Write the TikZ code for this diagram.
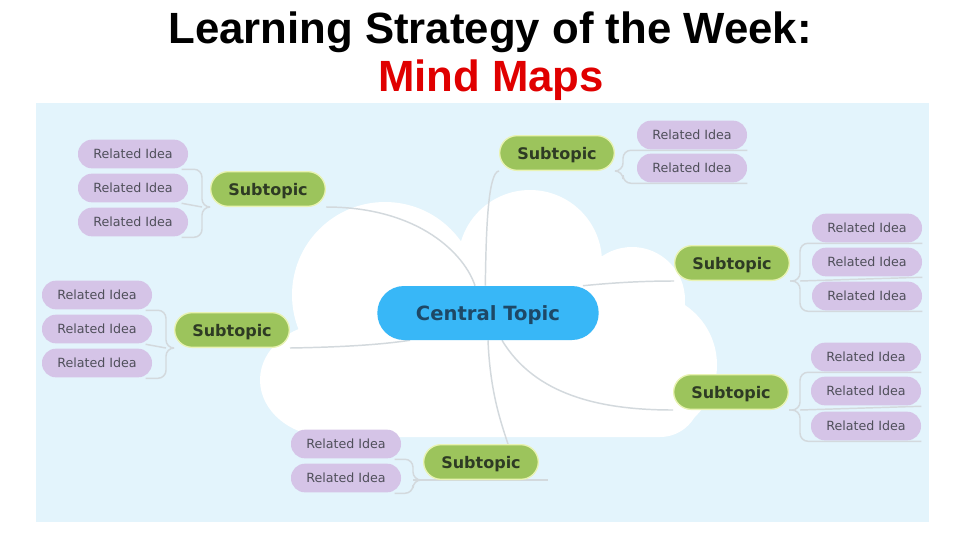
\documentclass[tikz,border=0pt]{standalone}
\usepackage{fontspec}
\setmainfont{Liberation Sans}
\newfontfamily\dvfont{DejaVu Sans}
\definecolor{bgblue}{HTML}{E3F4FC}
\definecolor{linegray}{HTML}{D3D9DD}
\definecolor{ideafill}{HTML}{D5C4E7}
\definecolor{ideatext}{HTML}{4F4F5A}
\definecolor{subfill}{HTML}{9CC45C}
\definecolor{subborder}{HTML}{E9F3B3}
\definecolor{subtext}{HTML}{2E3B24}
\definecolor{centfill}{HTML}{38B7F7}
\definecolor{centtext}{HTML}{1E4866}
\definecolor{titlered}{HTML}{E00000}
\pgfdeclarelayer{cloudlayer}
\pgfdeclarelayer{linklayer}
\pgfsetlayers{cloudlayer,linklayer,main}
\begin{document}
\begin{tikzpicture}[x=0.75pt,y=-0.75pt,
 idea/.style={fill=ideafill, rounded corners=10.5pt, minimum width=82.5pt, minimum height=21.5pt, inner sep=0pt, font=\dvfont\fontsize{9.5}{11}\selectfont, text=ideatext},
 subtopic/.style={fill=subfill, draw=subborder, line width=1pt, rounded corners=13pt, minimum width=86pt, minimum height=26pt, inner sep=0pt, text depth=0pt, font=\dvfont\bfseries\fontsize{12}{14}\selectfont, text=subtext},
 central/.style={fill=centfill, rounded corners=20pt, minimum width=166pt, minimum height=40.5pt, inner sep=0pt, text depth=0pt, font=\dvfont\bfseries\fontsize{14.7}{17}\selectfont, text=centtext},
 link/.style={draw=linegray, line width=1.1pt},
 bracket/.style={link, rounded corners=6pt},
 titletext/.style={font=\bfseries\fontsize{32.8}{38}\selectfont, anchor=base, inner sep=0pt}
]
\path[use as bounding box] (0,0) rectangle (960,540);

% title
\node[titletext] (t1) at (490,43) {Learning Strategy of the Week:};
\node[titletext, text=titlered] (t2) at (491,91) {Mind Maps};

% nodes
\node[central] (ct) at (488,313) {Central Topic};
\node[subtopic] (st1) at (268,189) {Subtopic};
\node[subtopic] (st2) at (557,153) {Subtopic};
\node[subtopic] (st3) at (732,263) {Subtopic};
\node[subtopic] (st4) at (731,392) {Subtopic};
\node[subtopic] (st5) at (232,330) {Subtopic};
\node[subtopic] (st6) at (481,462) {Subtopic};

\node[idea] (i11) at (133,154) {Related Idea};
\node[idea] (i12) at (133,188) {Related Idea};
\node[idea] (i13) at (133,222) {Related Idea};
\node[idea] (i21) at (692,135) {Related Idea};
\node[idea] (i22) at (692,168) {Related Idea};
\node[idea] (i31) at (867,228) {Related Idea};
\node[idea] (i32) at (867,262) {Related Idea};
\node[idea] (i33) at (867,296) {Related Idea};
\node[idea] (i41) at (866,357) {Related Idea};
\node[idea] (i42) at (866,391) {Related Idea};
\node[idea] (i43) at (866,426) {Related Idea};
\node[idea] (i51) at (97,295) {Related Idea};
\node[idea] (i52) at (97,329) {Related Idea};
\node[idea] (i53) at (97,363) {Related Idea};
\node[idea] (i61) at (346,444) {Related Idea};
\node[idea] (i62) at (346,478) {Related Idea};

\coordinate (j1) at (202,207);
\coordinate (j2) at (623,171);
\coordinate (j3) at (800,281);
\coordinate (j4) at (800,410);
\coordinate (j5) at (166,348);
\coordinate (j6) at (413,480);

\begin{pgfonlayer}{cloudlayer}
\fill[white] (0,0) rectangle (960,540);
\fill[bgblue] (36,103) rectangle (929,522);
\fill[white] (385,295) circle[radius=93];
\fill[white] (530,262) circle[radius=72];
\fill[white] (632,300) circle[radius=53];
\fill[white] (645,365) circle[radius=72];
\fill[white] (330,380) ellipse[x radius=70, y radius=57];
\fill[white, rounded corners=30pt] (300,320) rectangle (700,437);
\end{pgfonlayer}

\begin{pgfonlayer}{linklayer}
% central to subtopics
\draw[link] (st1.south east) .. controls (420,207) and (465,255) .. ([xshift=-9.75pt]ct.north);
\draw[link] (st2.south west) .. controls (488,172) and (486,230) .. ([xshift=-2pt]ct.north);
\draw[link] ([xshift=-12pt]ct.north east) .. controls (620,282) and (650,281) .. (st3.south west);
\draw[link] ([xshift=10.5pt]ct.south) .. controls (535,395) and (600,410) .. (st4.south west);
\draw[link] ([xshift=-58.5pt]ct.south) .. controls (385,344) and (350,347) .. (st5.south east);
\draw[link] (ct.south) .. controls (490,390) and (500,420) .. ([xshift=20.25pt]st6.north);
% subtopics to ideas
\draw[bracket] (st1.south west) -- (j1) |- ([xshift=-5pt,yshift=-0.5pt]i11.south east);
\draw[bracket] (j1) -- ([xshift=-5pt,yshift=-0.5pt]i12.south east);
\draw[bracket] (st1.south west) -- (j1) |- ([xshift=-5pt,yshift=-0.5pt]i13.south east);

\draw[bracket] (st2.south east) -- (j2) |- ([yshift=-0.5pt]i21.south east);
\draw[bracket] (st2.south east) -- (j2) |- ([yshift=-0.5pt]i22.south east);

\draw[bracket] (st3.south east) -- (j3) |- ([yshift=-0.5pt]i31.south east);
\draw[bracket] (j3) -- ([yshift=-0.5pt]i32.south east);
\draw[bracket] (st3.south east) -- (j3) |- ([yshift=-0.5pt]i33.south east);

\draw[bracket] (st4.south east) -- (j4) |- ([yshift=-0.5pt]i41.south east);
\draw[bracket] (j4) -- ([yshift=-0.5pt]i42.south east);
\draw[bracket] (st4.south east) -- (j4) |- ([yshift=-0.5pt]i43.south east);

\draw[bracket] (st5.south west) -- (j5) |- ([xshift=-5pt,yshift=-0.5pt]i51.south east);
\draw[bracket] (j5) -- ([xshift=-5pt,yshift=-0.5pt]i52.south east);
\draw[bracket] (st5.south west) -- (j5) |- ([xshift=-5pt,yshift=-0.5pt]i53.south east);

\draw[link] (j6) -- ([xshift=6.75pt]st6.south east);
\draw[bracket] (st6.south west) -- (j6) |- ([xshift=-5pt,yshift=-0.5pt]i61.south east);
\draw[bracket] (st6.south west) -- (j6) |- ([xshift=-5pt,yshift=-0.5pt]i62.south east);
\end{pgfonlayer}
\end{tikzpicture}
\end{document}
